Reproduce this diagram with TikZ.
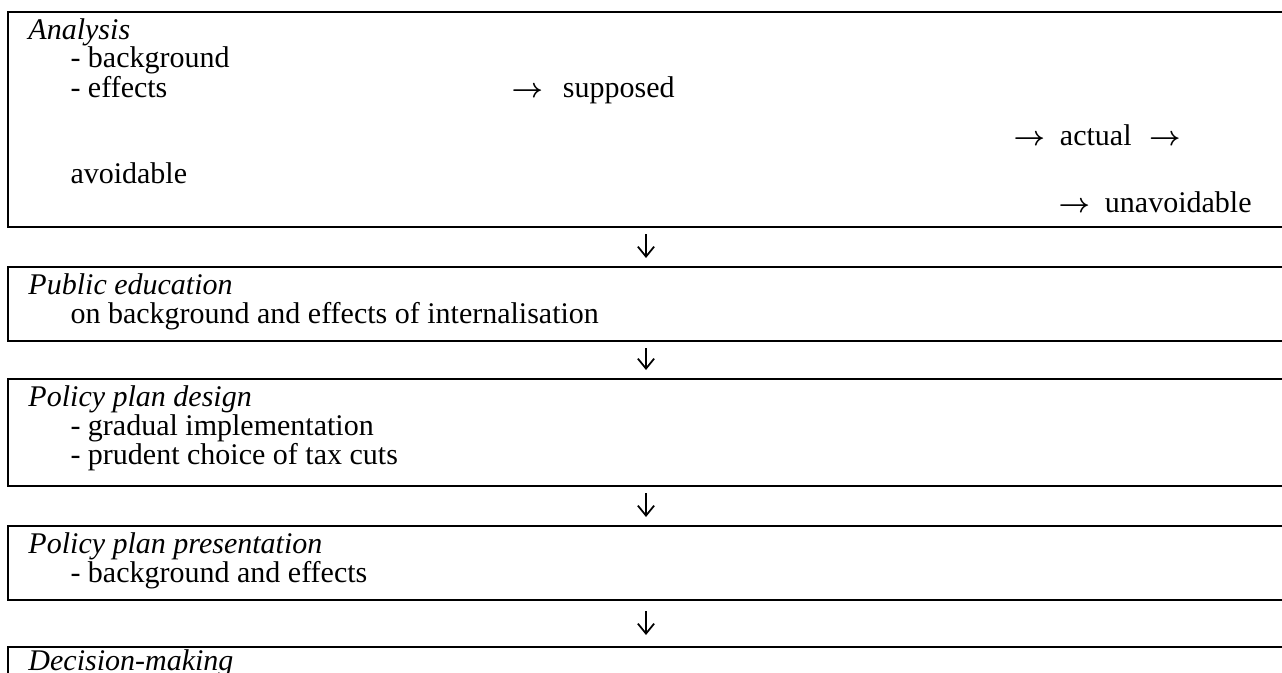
\documentclass[tikz,border=0pt]{standalone}
\usepackage{fontspec}
\setmainfont{Liberation Serif}
\usetikzlibrary{arrows.meta}
\newcommand{\tarr}{{\fontsize{11}{12}\selectfont\boldmath$\rightarrow$}}
\begin{document}
\begin{tikzpicture}[x=0.4pt,y=-0.4pt,
  box/.style={draw,line width=0.8pt,rectangle,anchor=north west,minimum width=520pt,inner sep=0pt},
  txt/.style={anchor=base west,inner sep=0pt,font=\fontsize{12}{14}\selectfont},
  down/.style={-{Straight Barb[length=4pt,width=6.5pt]},line width=0.7pt,shorten <=2.4pt,shorten >=3.2pt}]
\useasboundingbox (0,0) rectangle (1282,673);
\clip (0,0) rectangle (1282,673);
% boxes
\node[box,minimum height=86pt] (b1) at (7,11) {};
\node[box,minimum height=29.6pt] (b2) at (7,266) {};
\node[box,minimum height=42.8pt] (b3) at (7,378) {};
\node[box,minimum height=29.6pt] (b4) at (7,525) {};
\node[box,minimum height=40pt] (b5) at (7,646) {};
% analysis
\node[txt] (an) at (28,39) {\textit{Analysis}};
\node[txt] (an1) at (70,68) {- background};
\node[txt] (an2) at (70,97) {- effects};
\node[txt] (sup) at (511,97) {\tarr\hspace{8pt}supposed};
\node[txt] (act) at (1013,145) {\tarr\hspace{6pt}actual\hspace{7pt}\tarr};
\node[txt] (avo) at (70,183) {avoidable};
\node[txt] (una) at (1058,212) {\tarr\hspace{6pt}unavoidable};
% public education
\node[txt] (pe) at (28,294) {\textit{Public education}};
\node[txt] (pe1) at (70,323) {on background and effects of internalisation};
% policy plan design
\node[txt] (pd) at (28,406) {\textit{Policy plan design}};
\node[txt] (pd1) at (70,435) {- gradual implementation};
\node[txt] (pd2) at (70,464) {- prudent choice of tax cuts};
% policy plan presentation
\node[txt] (pp) at (28,553) {\textit{Policy plan presentation}};
\node[txt] (pp1) at (70,582) {- background and effects};
% decision
\node[txt] (dm) at (28,670) {\textit{Decision-making}};
% arrows
\coordinate (ax) at (646,0);
\draw[down] (b1.south -| ax) -- (b2.north -| ax);
\draw[down] (b2.south -| ax) -- (b3.north -| ax);
\draw[down] (b3.south -| ax) -- (b4.north -| ax);
\draw[down,shorten <=4pt,shorten >=4.4pt] (b4.south -| ax) -- (b5.north -| ax);
\end{tikzpicture}
\end{document}
